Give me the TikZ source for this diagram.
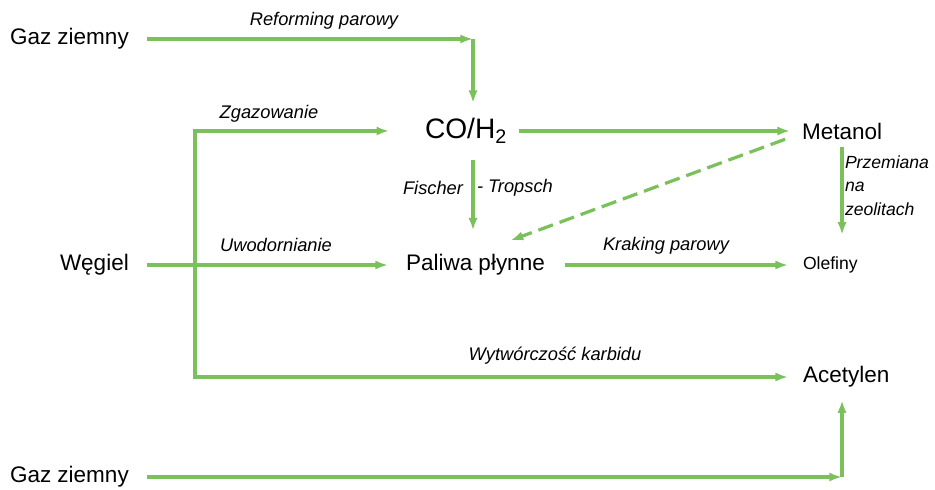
\documentclass[tikz,border=0pt]{standalone}
\usepackage{fontspec}
\setmainfont{Liberation Sans}
\usetikzlibrary{arrows.meta}
\definecolor{lgreen}{RGB}{122,193,92}
\begin{document}
\begin{tikzpicture}[x=0.025cm, y=-0.025cm,
    every node/.style={inner sep=0pt, outer sep=0pt},
    txt/.style={font=\fontsize{16}{19}\selectfont},
    lbl/.style={font=\fontsize{13}{16.5}\selectfont\itshape},
    arr/.style={draw=lgreen, line width=2.3pt, -{Latex[length=9pt,width=6.5pt]}}]
    \useasboundingbox (0,0) rectangle (935,490);

    % Surowce
    \node[txt, anchor=west] (gaz1) at (10,39) {Gaz ziemny};
    \node[txt, anchor=west] (wegiel) at (60,265) {Węgiel};
    \node[txt, anchor=west] (gaz2) at (10,477) {Gaz ziemny};

    % Produkty
    \node[font=\fontsize{20}{24}\selectfont] (coh) at (466,131) {CO/H\textsubscript{2}};
    \node[txt, anchor=west] (metanol) at (802,131) {Metanol};
    \node[txt, anchor=west] (paliwa) at (406,265) {Paliwa płynne};
    \node[anchor=west, font=\fontsize{12.5}{15}\selectfont] (olefiny) at (803,265) {Olefiny};
    \node[txt, anchor=west] (acetylen) at (803,377) {Acetylen};

    % Punkty zalamania
    \coordinate (r1) at (473,39);
    \coordinate (k1) at (195,131);
    \coordinate (k2) at (195,377);
    \coordinate (c2) at (842,477);

    % Gaz ziemny -> CO/H2
    \draw[arr, shorten <=12.8pt] (gaz1.east) -- (r1);
    \draw[arr, shorten >=11pt] (r1) -- (r1 |- coh.north);
    \node[lbl] (l1) at (324,21) {Reforming parowy};

    % Wegiel
    \draw[draw=lgreen, line width=2.3pt, line cap=rect] (k1) -- (k2);
    \draw[arr, shorten >=25.5pt] (k1) -- (coh.west);
    \draw[arr, shorten <=12.8pt, shorten >=12.8pt] (wegiel.east) -- (paliwa.west);
    \draw[arr, shorten >=10.6pt] (k2) -- (acetylen.west);
    \node[lbl] (l2) at (269,114) {Zgazowanie};
    \node[lbl] (l3) at (276,245) {Uwodornianie};
    \node[lbl] (l4) at (555,356) {Wytwórczość karbidu};

    % CO/H2 -> Metanol, Paliwa
    \draw[arr, shorten <=8.5pt, shorten >=8.5pt] (coh.east) -- (metanol.west);
    \draw[arr, shorten <=12pt, shorten >=17pt] (r1 |- coh.south) -- (r1 |- paliwa.north);
    \node[lbl, anchor=east] (l5) at (463,188) {Fischer};
    \node[lbl, anchor=west] (l6) at (477,188) {- Tropsch};

    % Metanol
    \draw[arr, dashed, dash pattern=on 11pt off 5pt] ([xshift=-12pt]metanol.south west) -- ([xshift=25pt,yshift=10pt]paliwa.north);
    \draw[arr, shorten <=5.7pt, shorten >=15.6pt] (metanol.south) -- (metanol.south |- olefiny.north);
    \node[lbl, anchor=north west, align=left, font=\fontsize{12.5}{16.5}\selectfont\itshape] (l7) at (845,156) {Przemiana\\na\\zeolitach};

    % Paliwa -> Olefiny
    \draw[arr, shorten <=14pt, shorten >=10.6pt] (paliwa.east) -- (olefiny.west);
    \node[lbl] (l8) at (666,246) {Kraking parowy};

    % Gaz ziemny -> Acetylen
    \draw[arr, shorten <=12.8pt] (gaz2.east) -- (c2);
    \draw[arr, shorten >=9pt] (c2) -- (c2 |- acetylen.south);
\end{tikzpicture}
\end{document}
